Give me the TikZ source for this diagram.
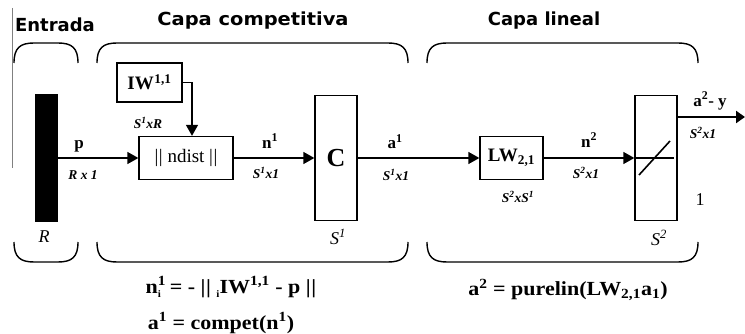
\documentclass[tikz,border=0pt]{standalone}
\usepackage{fontspec}
\setmainfont{Liberation Serif}
\newfontfamily\headfont{DejaVu Sans}
\usetikzlibrary{arrows.meta}
\newcommand{\dbar}{\textbar\kern0.6pt\textbar}
\newcommand{\lowi}{\raisebox{-0.22em}{\fontsize{10}{10}\selectfont i}}
\begin{document}
\begin{tikzpicture}[x=1pt,y=-1pt,
  blk/.style={draw, line width=1.3pt, inner sep=0pt},
  arr/.style={line width=1.3pt, -{Triangle[length=11pt,width=12pt]}},
  arrthick/.style={line width=2.6pt, -{Triangle[length=9pt,width=12pt]}},
  brc/.style={line width=1.4pt},
  head/.style={font=\headfont\bfseries\fontsize{18}{18}\selectfont, inner sep=0pt},
  lbl/.style={font=\bfseries\fontsize{17}{17}\selectfont, inner sep=0pt},
  dim/.style={font=\bfseries\itshape\fontsize{13.5}{13.5}\selectfont, inner sep=0pt},
  eq/.style={font=\bfseries\fontsize{20}{20}\selectfont, inner sep=0pt, xscale=1.1, transform shape}]
\useasboundingbox (0,0) rectangle (745,334);
% left gray rule
\draw[gray, line width=1pt] (12,8) -- (12,168);
% headings
\node[head] (hin) at (55,25) {Entrada};
\node[head, xscale=1.08, transform shape] (hcomp) at (253,21) {Capa competitiva};
\node[head] (hlin) at (544,21) {Capa lineal};
% top braces
\draw[brc] (14,63) .. controls (14,48) and (20,43) .. (34,43) -- (58,43) .. controls (72,43) and (78,48) .. (78,63);
\draw[brc] (97,63) .. controls (97,48) and (103,43) .. (117,43) -- (388,43) .. controls (402,43) and (408,48) .. (408,63);
\draw[brc] (427,63) .. controls (427,48) and (433,43) .. (447,43) -- (678,43) .. controls (692,43) and (698,48) .. (698,63);
% bottom braces
\draw[brc] (14,242) .. controls (14,257) and (20,262) .. (34,262) -- (58,262) .. controls (72,262) and (78,257) .. (78,242);
\draw[brc] (97,242) .. controls (97,257) and (103,262) .. (117,262) -- (388,262) .. controls (402,262) and (408,257) .. (408,242);
\draw[brc] (427,242) .. controls (427,257) and (433,262) .. (447,262) -- (678,262) .. controls (692,262) and (698,257) .. (698,242);
% blocks
\node[blk, fill=black, minimum width=21pt, minimum height=127pt] (bar) at (46.5,158) {};
\node[blk, minimum width=65pt, minimum height=39pt, font=\bfseries\fontsize{19}{19}\selectfont] (iw) at (149.5,82.5) {IW\textsuperscript{\kern0.5pt1,1}};
\node[blk, minimum width=94pt, minimum height=43pt, font=\fontsize{19}{19}\selectfont] (nd) at (186,158) {\dbar\ ndist \dbar};
\node[blk, minimum width=42pt, minimum height=125pt, font=\bfseries\fontsize{26}{26}\selectfont] (cb) at (336,158) {C};
\node[blk, minimum width=63pt, minimum height=43pt, font=\bfseries\fontsize{19}{19}\selectfont] (lw) at (511.5,158) {LW\textsubscript{2,1}};
\node[blk, minimum width=42pt, minimum height=125pt] (pl) at (656,158) {};
\draw[line width=1.3pt] (pl.west) -- ([xshift=-4pt]pl.east);
\draw[line width=1.6pt] ([xshift=-17pt,yshift=-17pt]pl.center) -- ([xshift=14pt,yshift=17pt]pl.center);
% connectors
\draw[arr] (bar.east) -- (nd.west);
\draw[arr] (iw.east) -| ([xshift=6pt]nd.north);
\draw[arr] (nd.east) -- (cb.west);
\draw[arr] (cb.east) -- (lw.west);
\draw[arr] (lw.east) -- (pl.west);
\coordinate (out) at (745,117);
\draw[arrthick] (pl.east |- out) -- (out);
% labels
\node[lbl] (lp) at (79,146) {p};
\node[dim] (lrx1) at (83,175) {R x 1};
\node[dim] (ls1r) at (148,123) {S\textsuperscript{1}xR};
\node[lbl] (ln1) at (270,141) {n\textsuperscript{1}};
\node[dim] (ls1a) at (266,173) {S\textsuperscript{1}x1};
\node[lbl] (la1) at (395,142) {a\textsuperscript{1}};
\node[dim] (ls1b) at (396,175) {S\textsuperscript{1}x1};
\node[dim] (ls2s1) at (518,197) {S\textsuperscript{2}xS\textsuperscript{1}};
\node[lbl] (ln2) at (589,140) {n\textsuperscript{2}};
\node[dim] (ls2a) at (586,173) {S\textsuperscript{2}x1};
\node[lbl] (lay) at (710,101) {a\textsuperscript{2}- y};
\node[dim] (ls2b) at (703,133) {S\textsuperscript{2}x1};
\node[font=\itshape\fontsize{18}{18}\selectfont, inner sep=0pt] (lR) at (44,237) {R};
\node[font=\itshape\fontsize{18}{18}\selectfont, inner sep=0pt] (lS1) at (338,237) {S\textsuperscript{1}};
\node[font=\itshape\fontsize{18}{18}\selectfont, inner sep=0pt] (lS2) at (659,238) {S\textsuperscript{2}};
\node[font=\fontsize{18}{18}\selectfont, inner sep=0pt] (lone) at (700,200) {1};
% equations
\node[eq] (eq1) at (231,287) {n\rlap{\textsuperscript{1}}\lowi\kern0.4em= - \dbar\ \lowi IW\textsuperscript{1,1} - p \dbar};
\node[eq] (eq2) at (221,323) {a\textsuperscript{1} = compet(n\textsuperscript{1})};
\node[eq] (eq3) at (568,290) {a\textsuperscript{2} = purelin(LW\textsubscript{2,1}a\textsubscript{1})};
\end{tikzpicture}
\end{document}
